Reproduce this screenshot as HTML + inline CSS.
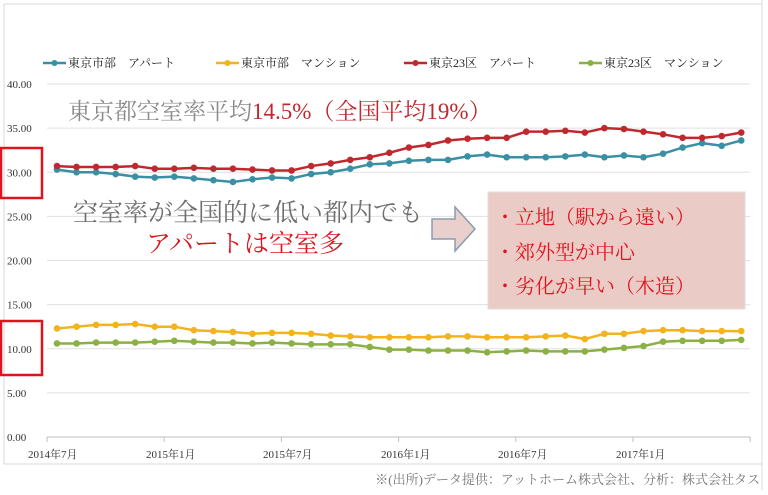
<!DOCTYPE html>
<html><head><meta charset="utf-8"><style>
body{margin:0;background:#fff;width:768px;height:490px;overflow:hidden}
svg text{font-family:"Liberation Serif","Noto Serif CJK SC",serif}
</style></head><body>
<svg id="s" width="768" height="490" xmlns="http://www.w3.org/2000/svg">
<rect x="4" y="4" width="758" height="460" fill="none" stroke="#d9d9d9" stroke-width="1"/>
<g id="grid" stroke="#e0e0e0" stroke-width="1"></g>
<g id="ylab" font-size="11" fill="#333"></g>
<line x1="47" y1="437" x2="750" y2="437" stroke="#bfbfbf"/>
<g id="xt" stroke="#bfbfbf"></g>
<g font-size="11" fill="#333" font-family="Liberation Serif,Noto Serif CJK SC,serif">
<text x="28" y="458">2014年7月</text><text x="146" y="458">2015年1月</text><text x="263" y="458">2015年7月</text><text x="381" y="458">2016年1月</text><text x="498" y="458">2016年7月</text><text x="616" y="458">2017年1月</text>
</g>
<g id="series"></g>
<g font-size="12" fill="#222" font-family="Liberation Sans,Noto Sans CJK JP,sans-serif">
<line x1="43" y1="63" x2="66" y2="63" stroke="#3a8fa3" stroke-width="2.5"/><circle cx="54.5" cy="63" r="3" fill="#3a8fa3"/><text x="68" y="67">東京市部　アパート</text>
<line x1="216" y1="63" x2="239" y2="63" stroke="#f2b31c" stroke-width="2.5"/><circle cx="227.5" cy="63" r="3" fill="#f2b31c"/><text x="241" y="67">東京市部　マンション</text>
<line x1="404" y1="63" x2="427" y2="63" stroke="#c0282f" stroke-width="2.5"/><circle cx="415.5" cy="63" r="3" fill="#c0282f"/><text x="429" y="67">東京23区　アパート</text>
<line x1="579" y1="63" x2="602" y2="63" stroke="#8bb043" stroke-width="2.5"/><circle cx="590.5" cy="63" r="3" fill="#8bb043"/><text x="604" y="67">東京23区　マンション</text>
</g>
<rect x="1" y="148" width="41" height="50" fill="none" stroke="#e0141e" stroke-width="2.5"/>
<rect x="1" y="321" width="41" height="54" fill="none" stroke="#e0141e" stroke-width="2.5"/>
<text x="68" y="119" font-size="23" fill="#8a8a8a">東京都空室率平均<tspan fill="#c0282f">14.5%（全国平均19%）</tspan></text>
<text x="73" y="221" font-size="25" fill="#6f6f6f" font-family="Liberation Sans,Noto Sans CJK JP,sans-serif">空室率が全国的に低い都内でも</text>
<text x="146" y="252" font-size="25" fill="#e0141e" font-family="Liberation Sans,Noto Sans CJK JP,sans-serif">アパートは空室多</text>
<polygon points="432,219 455,219 455,207 475,229 455,251 455,239 432,239" fill="#ead0cc" stroke="#8a9bb0" stroke-width="1.5"/>
<rect x="488" y="192" width="257" height="117" fill="#ebcbc6" stroke="#ddd"/>
<g font-size="20" fill="#e0141e" font-family="Liberation Sans,Noto Sans CJK JP,sans-serif">
<text x="495" y="224">・立地（駅から遠い）</text>
<text x="495" y="259">・郊外型が中心</text>
<text x="495" y="293">・劣化が早い（木造）</text>
</g>
<text x="760" y="484" text-anchor="end" font-size="13" fill="#777" font-family="Liberation Sans,Noto Sans CJK JP,sans-serif">※(出所)データ提供：アットホーム株式会社、分析：株式会社タス</text>
<line x1="762" y1="0" x2="762" y2="490" stroke="#ddd"/>
</svg>
<script>
var ns="http://www.w3.org/2000/svg",s=document.getElementById('s');
function Y(v){return 437-v*8.825}
var g=document.getElementById('grid'),yl=document.getElementById('ylab');
for(var v=5;v<=40;v+=5){var l=document.createElementNS(ns,'line');l.setAttribute('x1',47);l.setAttribute('x2',750);l.setAttribute('y1',Y(v));l.setAttribute('y2',Y(v));g.appendChild(l);}
for(var v=0;v<=40;v+=5){var t=document.createElementNS(ns,'text');t.setAttribute('x',7);t.setAttribute('y',Y(v)+4);t.textContent=v.toFixed(2);yl.appendChild(t);}
var xt=document.getElementById('xt');
for(var i=0;i<=6;i++){var x=47+i*117.2;var l=document.createElementNS(ns,'line');l.setAttribute('x1',x);l.setAttribute('x2',x);l.setAttribute('y1',437);l.setAttribute('y2',442);xt.appendChild(l);}
var D=[
["#3a8fa3",[30.3,30.0,30.0,29.8,29.5,29.4,29.5,29.3,29.1,28.9,29.2,29.4,29.3,29.8,30.0,30.4,30.9,31.0,31.3,31.4,31.4,31.8,32.0,31.7,31.7,31.7,31.8,32.0,31.7,31.9,31.7,32.1,32.8,33.3,33.0,33.6]],
["#c0282f",[30.7,30.6,30.6,30.6,30.7,30.4,30.4,30.5,30.4,30.4,30.3,30.2,30.2,30.7,31.0,31.4,31.7,32.2,32.8,33.1,33.6,33.8,33.9,33.9,34.6,34.6,34.7,34.5,35.0,34.9,34.6,34.3,33.9,33.9,34.1,34.5]],
["#f2b31c",[12.3,12.5,12.7,12.7,12.8,12.5,12.5,12.1,12.0,11.9,11.7,11.8,11.8,11.7,11.5,11.4,11.3,11.3,11.3,11.3,11.4,11.4,11.3,11.3,11.3,11.4,11.5,11.1,11.7,11.7,12.0,12.1,12.1,12.0,12.0,12.0]],
["#8bb043",[10.6,10.6,10.7,10.7,10.7,10.8,10.9,10.8,10.7,10.7,10.6,10.7,10.6,10.5,10.5,10.5,10.2,9.9,9.9,9.8,9.8,9.8,9.6,9.7,9.8,9.7,9.7,9.7,9.9,10.1,10.3,10.8,10.9,10.9,10.9,11.0]]];
var sg=document.getElementById('series');
D.forEach(function(d){var p=d[1].map(function(v,i){return (57+i*19.55)+','+Y(v)}).join(' ');
var pl=document.createElementNS(ns,'polyline');pl.setAttribute('points',p);pl.setAttribute('fill','none');pl.setAttribute('stroke',d[0]);pl.setAttribute('stroke-width',2.5);sg.appendChild(pl);
d[1].forEach(function(v,i){var c=document.createElementNS(ns,'circle');c.setAttribute('cx',57+i*19.55);c.setAttribute('cy',Y(v));c.setAttribute('r',3.3);c.setAttribute('fill',d[0]);sg.appendChild(c);});});
</script>
</body></html>
